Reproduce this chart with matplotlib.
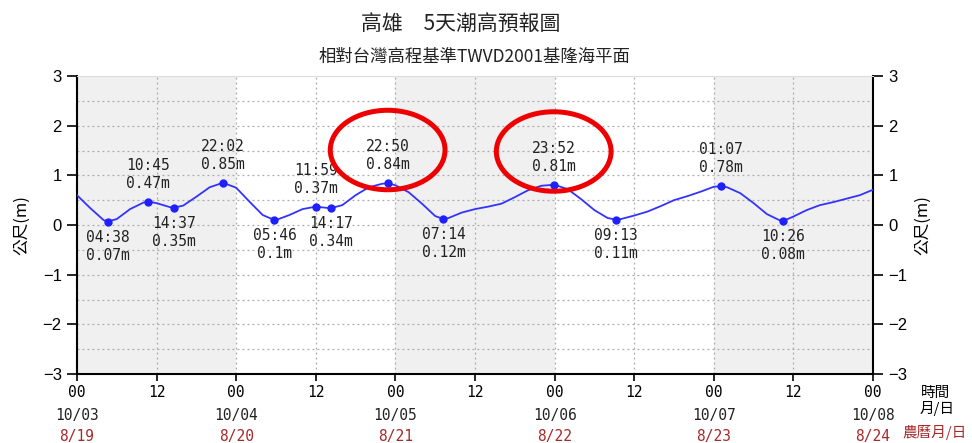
import matplotlib
matplotlib.use('Agg')
import matplotlib.pyplot as plt
from matplotlib.patches import Ellipse
from matplotlib.transforms import blended_transform_factory

plt.rcParams['font.family'] = ['Noto Sans CJK TC', 'DejaVu Sans']
plt.rcParams['axes.unicode_minus'] = True

# ---------------- data ----------------
dates = ['10/03', '10/04', '10/05', '10/06', '10/07', '10/08']
lunar = ['8/19', '8/20', '8/21', '8/22', '8/23', '8/24']
hour_ticks = [0, 12, 24, 36, 48, 60, 72, 84, 96, 108, 120]
hour_tick_labels = ['00', '12', '00', '12', '00', '12', '00', '12', '00', '12', '00']

# tide curve read every 2 hours from 10/03 00:00
curve_hours = list(range(0, 121, 2))
curve_values = [0.60, 0.34, 0.10, 0.12, 0.32, 0.45, 0.44, 0.36, 0.39, 0.57, 0.76, 0.85,
                0.75, 0.47, 0.20, 0.10, 0.20, 0.32, 0.37, 0.34, 0.40, 0.60, 0.76, 0.83,
                0.80, 0.66, 0.43, 0.18, 0.14, 0.25, 0.32, 0.37, 0.43, 0.56, 0.70, 0.79,
                0.81, 0.72, 0.52, 0.30, 0.14, 0.12, 0.19, 0.27, 0.38, 0.50, 0.58, 0.67,
                0.77, 0.76, 0.64, 0.44, 0.22, 0.09, 0.17, 0.30, 0.40, 0.46, 0.53, 0.60,
                0.71]

# extrema (high / low tides)
ext_days = [0, 0, 0, 0, 1, 1, 1, 1, 2, 2, 3, 4, 4]
ext_times = ['04:38', '10:45', '14:37', '22:02', '05:46', '11:59', '14:17',
             '22:50', '07:14', '23:52', '09:13', '01:07', '10:26']
ext_values = [0.07, 0.47, 0.35, 0.85, 0.10, 0.37, 0.34, 0.84, 0.12, 0.81, 0.11, 0.78, 0.08]
ext_labels = ['0.07m', '0.47m', '0.35m', '0.85m', '0.1m', '0.37m', '0.34m',
              '0.84m', '0.12m', '0.81m', '0.11m', '0.78m', '0.08m']
ext_kind = ['L', 'H', 'L', 'H', 'L', 'H', 'L', 'H', 'L', 'H', 'L', 'H', 'L']
highlight = ['22:50', '23:52']

# ---------------- figure ----------------
W, H = 972, 443
fig = plt.figure(figsize=(W / 100, H / 100), dpi=100)
ax = fig.add_axes([77 / W, 1 - 374 / H, (873 - 77) / W, (374 - 76) / H])

ext_hours = [d * 24 + int(t[:2]) + int(t[3:]) / 60 for d, t in zip(ext_days, ext_times)]

# day shading
for d in range(0, 5, 2):
    ax.axvspan(d * 24, d * 24 + 24, color='#f0f0f0', zorder=0, lw=0)

# grid
for x in hour_ticks:
    ax.axvline(x, color='#aaaaaa', ls=(0, (1.5, 2.5)), lw=0.9, zorder=1)
for k in range(-5, 6):
    ax.axhline(k * 0.5, color='#aaaaaa', ls=(0, (1.5, 2.5)), lw=0.9, zorder=1)

# curve
pts = sorted(list(zip(curve_hours, curve_values)) + list(zip(ext_hours, ext_values)))
ax.plot([p[0] for p in pts], [p[1] for p in pts], color='#3333ff', lw=1.3, zorder=3)
ax.plot(ext_hours, ext_values, 'o', color='#2020ff', ms=5, zorder=4)

mono = 'DejaVu Sans Mono'
for h, v, t, lab, k in zip(ext_hours, ext_values, ext_times, ext_labels, ext_kind):
    if k == 'H':
        ax.annotate(f'{t}\n{lab}', (h, v), xytext=(0, 8), textcoords='offset points',
                    ha='center', va='bottom', fontsize=10.5, family=mono, color='#222222',
                    linespacing=1.25, zorder=5)
    else:
        ax.annotate(f'{t}\n{lab}', (h, v), xytext=(0, -6), textcoords='offset points',
                    ha='center', va='top', fontsize=10.5, family=mono, color='#222222',
                    linespacing=1.25, zorder=5)

# red highlight ellipses
for h, v, t in zip(ext_hours, ext_values, ext_times):
    if t in highlight:
        ax.add_patch(Ellipse((h, v + 0.67), width=17.3, height=1.6, fill=False,
                             edgecolor='#ee0000', lw=3.6, zorder=6, clip_on=False))

ax.set_xlim(0, 120)
ax.set_ylim(-3, 3)
ax.set_yticks(range(-3, 4))
ax.set_xticks(hour_ticks)
ax.set_xticklabels(hour_tick_labels, family=mono, fontsize=10.5)
ax.tick_params(axis='x', direction='out', length=5, width=1.2, pad=3, colors='black')
ax.tick_params(axis='y', direction='out', length=7, width=1.2, pad=4,
               labelsize=12, left=True, right=True, labelleft=True, labelright=True)
for lab in ax.get_yticklabels():
    lab.set_family('Liberation Sans')

for s in ['left', 'right', 'bottom']:
    ax.spines[s].set_linewidth(1.5)
    ax.spines[s].set_color('black')
ax.spines['top'].set_color('#dddddd')
ax.spines['top'].set_linewidth(0.8)

# y labels
ax.text(-0.069, 0.5, '公尺(m)', transform=ax.transAxes, rotation=90, ha='center',
        va='center', fontsize=12)
ax.text(1.0628, 0.5, '公尺(m)', transform=ax.transAxes, rotation=90, ha='center',
        va='center', fontsize=12)

# date rows
tr = blended_transform_factory(ax.transData, ax.transAxes)
for i, (d, l) in enumerate(zip(dates, lunar)):
    ax.text(i * 24, -0.138, d, transform=tr, ha='center', va='center',
            family=mono, fontsize=10.5, color='#222222')
    ax.text(i * 24, -0.2085, l, transform=tr, ha='center', va='center',
            family=mono, fontsize=10.5, color='#a52a2a')

fig.text(936 / W, 1 - 393 / H, '時間', ha='center', va='center', fontsize=10.5)
fig.text(937 / W, 1 - 409 / H, '月/日', ha='center', va='center', fontsize=10.5)
fig.text(935 / W, 1 - 432 / H, '農曆月/日', ha='center', va='center', fontsize=10.5,
         color='#a52a2a')

# titles
fig.text(461 / W, 1 - 24 / H, '高雄\u30005天潮高預報圖', ha='center', va='center',
         fontsize=15, color='#222222')
fig.text(474 / W, 1 - 57 / H, '相對台灣高程基準TWVD2001基隆海平面', ha='center',
         va='center', fontsize=12.5, color='#222222')

fig.savefig('out.png', dpi=100)
